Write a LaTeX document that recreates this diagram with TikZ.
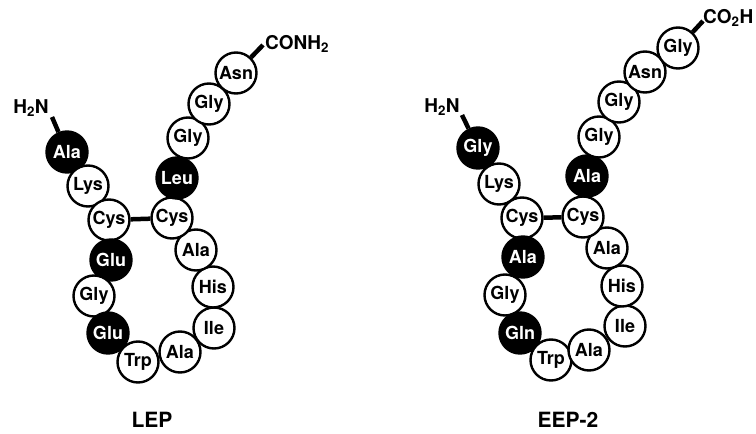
\documentclass[tikz,border=0pt]{standalone}
\usepackage{fontspec}
\setmainfont{TeX Gyre Heros}
\begin{document}
\begin{tikzpicture}[x=1pt,y=-1pt,
  res/.style={circle,draw=black,line width=2.4pt,fill=white,minimum size=41pt,inner sep=0pt,font=\fontsize{18}{18}\selectfont\bfseries},
  dark/.style={res,fill=black,text=white},
  lbl/.style={inner sep=0pt,font=\fontsize{19}{19}\selectfont\bfseries},
  title/.style={inner sep=0pt,font=\fontsize{21}{21}\selectfont\bfseries},
  bond/.style={line width=4.5pt}]
\useasboundingbox (0,0) rectangle (756,434);
% ---------- LEP ----------
\node[dark] (a1) at (67,152) {Ala};
\node[res]  (a2) at (88,186) {Lys};
\node[res]  (a3) at (109,220) {Cys};
\node[dark] (a4) at (111,260) {Glu};
\node[res]  (a5) at (94,296) {Gly};
\node[dark] (a6) at (108,333) {Glu};
\node[res]  (a7) at (138,362) {Trp};
\node[res]  (a8) at (180,352) {Ala};
\node[res]  (a9) at (214,328) {Ile};
\node[res]  (a10) at (213,287) {His};
\node[res]  (a11) at (196,250) {Ala};
\node[res]  (a12) at (172,218) {Cys};
\node[dark] (a13) at (177,178) {Leu};
\node[res]  (a14) at (188,138) {Gly};
\node[res]  (a15) at (209,104) {Gly};
\node[res]  (a16) at (236,73) {Asn};
\node[lbl,anchor=west] (an) at (265,44) {CONH\textsubscript{2}};
\node[lbl] (ah) at (31,108) {H\textsubscript{2}N};
\coordinate (ac1) at (263,45);
\coordinate (ah1) at (52,117);
\draw[bond] (a16) -- (ac1);
\draw[bond] (ah1) -- (a1);
\draw[bond] (a3) -- (a12);
\node[title] (lep) at (152,420) {LEP};
% ---------- EEP-2 ----------
\node[dark] (b1) at (478,148) {Gly};
\node[res]  (b2) at (499,184) {Lys};
\node[res]  (b3) at (522,218) {Cys};
\node[dark] (b4) at (523,257) {Ala};
\node[res]  (b5) at (505,295) {Gly};
\node[dark] (b6) at (520,333) {Gln};
\node[res]  (b7) at (551,360) {Trp};
\node[res]  (b8) at (589,350) {Ala};
\node[res]  (b9) at (625,326) {Ile};
\node[res]  (b10) at (622,286) {His};
\node[res]  (b11) at (607,248) {Ala};
\node[res]  (b12) at (583,217) {Cys};
\node[dark] (b13) at (587,176) {Ala};
\node[res]  (b14) at (599,137) {Gly};
\node[res]  (b15) at (619,102) {Gly};
\node[res]  (b16) at (645,72) {Asn};
\node[res]  (b17) at (678,48) {Gly};
\node[lbl,anchor=west] (bn) at (703,18) {CO\textsubscript{2}H};
\node[lbl] (bh) at (442,107) {H\textsubscript{2}N};
\coordinate (bc1) at (703,21);
\coordinate (bh1) at (462,115);
\draw[bond] (b17) -- (bc1);
\draw[bond] (bh1) -- (b1);
\draw[bond] (b3) -- (b12);
\node[title] (eep) at (568,420) {EEP-2};
\end{tikzpicture}
\end{document}
